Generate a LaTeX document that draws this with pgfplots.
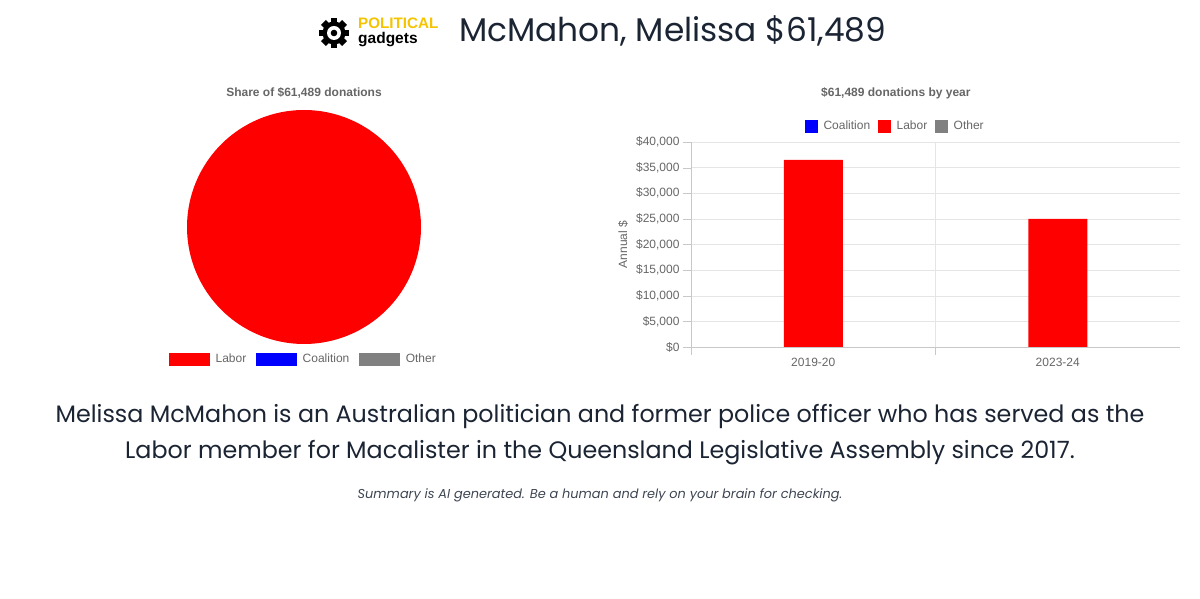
\documentclass[border=0pt]{standalone}
\usepackage{fontspec}
\setmainfont{Liberation Sans}
\newfontfamily\mont{Poppins}
\usepackage{pgfplots}
\pgfplotsset{compat=1.18}
\usepackage{pgfplotstable}
\definecolor{txtgray}{HTML}{666666}
\definecolor{titlecol}{HTML}{1B2433}
\definecolor{gold}{HTML}{F5C400}
\definecolor{gridc}{HTML}{E5E5E5}
\definecolor{axisc}{HTML}{C8C8C8}
\definecolor{othergray}{HTML}{808080}

% donations by year (Labor)
\pgfplotstableread{
year value
0 36489
1 25000
}\bars
% share of total donations (in thousands of dollars)
\pgfmathsetmacro{\total}{61.489}
\pgfmathsetmacro{\labor}{61.489}
\pgfmathsetmacro{\laborang}{360*(\labor/\total)}

\begin{document}
\begin{tikzpicture}[x=1pt,y=1pt]
\path[use as bounding box] (0,0) rectangle (1200,599);

% logo
\begin{scope}[shift={(334,566)}]
\foreach \a in {0,45,...,315} \fill[black, rotate=\a] (-3.4,8) rectangle (3.4,15);
\fill[black] (0,0) circle (11.5);
\fill[white] (0,0) circle (7);
\fill[black] (0,0) circle (3.3);
\end{scope}
\node[anchor=base west, inner sep=0, text=gold, font=\fontsize{15.2}{16}\selectfont\bfseries] at (358,570) {POLITICAL};
\node[anchor=base west, inner sep=0, text=black, font=\fontsize{15.5}{16}\selectfont\bfseries] at (358,555.5) {gadgets};
\node[anchor=base west, inner sep=0, text=titlecol, font=\mont\fontsize{32.8}{35}\selectfont] at (459,557.5) {McMahon, Melissa \$61,489};

% pie
\begin{axis}[
  at={(304pt,372pt)}, anchor=center,
  scale only axis, width=234pt, height=234pt,
  xmin=-117, xmax=117, ymin=-117, ymax=117,
  hide axis,
  clip=false,
  title={\bfseries Share of \$61,489 donations},
  title style={at={(0.5,1.077)}, anchor=center, yshift=-7pt, text=txtgray, font=\fontsize{12}{14}\selectfont},
  legend style={at={(0.5,-0.063)}, anchor=center, draw=none, fill=none,
    font=\fontsize{12}{14}\selectfont, text=txtgray, inner sep=0pt, nodes={inner sep=3pt},
    /tikz/every even column/.append style={column sep=7pt}},
  legend columns=-1,
]
\addplot[fill=red, draw=none, domain=0:\laborang, samples=181, variable=\t, forget plot]
  ({117*cos(90-\t)},{117*sin(90-\t)});
\addlegendimage{legend image code/.code={\fill[red] (0pt,-6pt) rectangle (40pt,6pt); \path (43pt,0pt);}}
\addlegendentry{Labor}
\addlegendimage{legend image code/.code={\fill[blue] (0pt,-6pt) rectangle (40pt,6pt); \path (43pt,0pt);}}
\addlegendentry{Coalition}
\addlegendimage{legend image code/.code={\fill[othergray] (0pt,-6pt) rectangle (40pt,6pt); \path (43pt,0pt);}}
\addlegendentry{Other}
\end{axis}

% bars
\begin{axis}[
  at={(935.5pt,354.5pt)}, anchor=center,
  scale only axis, width=489pt, height=205pt,
  xmin=-0.5, xmax=1.5, ymin=0, ymax=40000,
  xtick={-0.5,0.5}, xticklabels={},
  extra x ticks={0,1}, extra x tick labels={2019-20,2023-24},
  extra x tick style={grid=none, tick style={draw=none}},
  ytick={0,5000,10000,15000,20000,25000,30000,35000,40000},
  scaled y ticks=false,
  grid=major,
  major grid style={draw=gridc},
  axis x line*=bottom, axis y line*=left,
  axis line style={draw=axisc},
  tick align=outside, major tick length=8pt,
  tick style={draw=axisc},
  yticklabel={\$\pgfmathprintnumber[fixed, precision=0, 1000 sep={,}, assume math mode=true]{\tick}},
  ticklabel style={font=\fontsize{12}{14}\selectfont, text=txtgray},
  ylabel={Annual \$},
  ylabel style={at={(axis description cs:-0.139,0.5)}, anchor=center, text=txtgray, font=\fontsize{12}{14}\selectfont},
  title={\bfseries \$61,489 donations by year},
  title style={at={(0.419,1.244)}, anchor=center, yshift=-7pt, text=txtgray, font=\fontsize{12}{14}\selectfont},
  legend style={at={(0.419,1.078)}, anchor=center, draw=none, fill=none,
    font=\fontsize{12}{14}\selectfont, text=txtgray, inner sep=0pt, nodes={inner sep=3pt},
    /tikz/every even column/.append style={column sep=5pt}},
  legend columns=-1,
]
\addlegendimage{legend image code/.code={\fill[blue] (0pt,-6pt) rectangle (12pt,6pt); \path (15pt,0pt);}}
\addlegendentry{Coalition}
\addlegendimage{legend image code/.code={\fill[red] (0pt,-6pt) rectangle (12pt,6pt); \path (15pt,0pt);}}
\addlegendentry{Labor}
\addlegendimage{legend image code/.code={\fill[othergray] (0pt,-6pt) rectangle (12pt,6pt); \path (15pt,0pt);}}
\addlegendentry{Other}
\addplot[ybar, bar width=59pt, fill=red, draw=none, forget plot] table[x=year, y=value] {\bars};
\end{axis}

% summary text
\node[anchor=base, inner sep=0, text=titlecol, font=\mont\fontsize{23.8}{28}\selectfont] at (600,176)
  {Melissa McMahon is an Australian politician and former police officer who has served as the};
\node[anchor=base, inner sep=0, text=titlecol, font=\mont\fontsize{23.8}{28}\selectfont] at (600,140)
  {Labor member for Macalister in the Queensland Legislative Assembly since 2017.};
\node[anchor=base, inner sep=0, text=titlecol!85, font=\mont\itshape\fontsize{12.9}{15}\selectfont] at (600,100)
  {Summary is AI generated. Be a human and rely on your brain for checking.};
\end{tikzpicture}
\end{document}
